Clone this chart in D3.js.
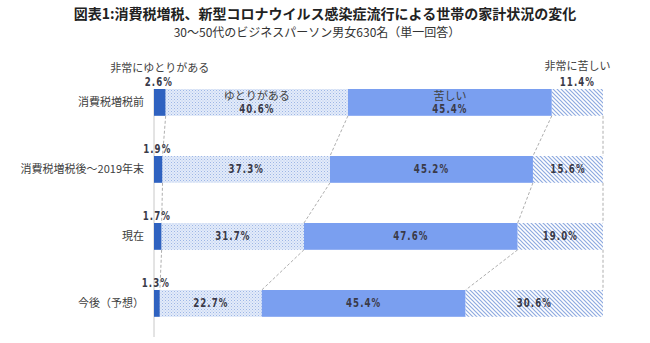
<!DOCTYPE html>
<html><head><meta charset="utf-8">
<script src="https://cdn.jsdelivr.net/npm/d3@7/dist/d3.min.js"></script>
<style>
html,body{margin:0;padding:0;background:#fff;}
svg{display:block;}
</style></head>
<body>
<svg id="c" width="650" height="343"></svg>
<script>
const categories = ["消費税増税前", "消費税増税後～2019年末", "現在", "今後（予想）"];
const seriesNames = ["非常にゆとりがある", "ゆとりがある", "苦しい", "非常に苦しい"];
const verySpare = [2.6, 1.9, 1.7, 1.3];
const spare = [40.6, 37.3, 31.7, 22.7];
const hard = [45.4, 45.2, 47.6, 45.4];
const veryHard = [11.4, 15.6, 19.0, 30.6];
const titleText = "図表1:消費税増税、新型コロナウイルス感染症流行による世帯の家計状況の変化";
const subtitleText = "30～50代のビジネスパーソン男女630名（単一回答）";

const svg = d3.select("#c");
const defs = svg.append("defs");
// dotted pattern
const pd = defs.append("pattern").attr("id","dots").attr("patternUnits","userSpaceOnUse").attr("width",3).attr("height",3);
pd.append("rect").attr("width",3).attr("height",3).attr("fill","#e3ebf9");
pd.append("rect").attr("x",0).attr("y",0).attr("width",1).attr("height",1).attr("fill","#9db6e6");
pd.append("rect").attr("x",1.5).attr("y",1.5).attr("width",1).attr("height",1).attr("fill","#b5c8ee");
// hatch pattern
const ph = defs.append("pattern").attr("id","hatch").attr("patternUnits","userSpaceOnUse").attr("width",4).attr("height",4);
ph.append("rect").attr("width",4).attr("height",4).attr("fill","#ffffff");
ph.append("path").attr("d","M-1,-1 L5,5 M-1,3 L1,5 M3,-1 L5,1").attr("stroke","#8eaae0").attr("stroke-width",1.2);

const fills = ["#2f62c0", "url(#dots)", "#7a9ff0", "url(#hatch)"];
const numFont = "'DejaVu Sans', sans-serif";
const jpFont = "'Noto Sans CJK JP', sans-serif";

svg.append("text").attr("x",325).attr("y",19).attr("text-anchor","middle")
  .attr("font-family",jpFont).attr("font-weight","bold").attr("font-size",14).attr("fill","#222")
  .text(titleText);
svg.append("text").attr("x",317).attr("y",37).attr("text-anchor","middle")
  .attr("font-family",jpFont).attr("font-size",12).attr("fill","#333")
  .text(subtitleText);

const x = d3.scaleLinear().domain([0,100]).range([154,603]);
const y = d3.scaleBand().domain(categories).range([89,316.8]).paddingInner(0.6).paddingOuter(0);

const rows = categories.map((c,i)=>{
  const vals=[verySpare[i],spare[i],hard[i],veryHard[i]];
  let cum=0;
  return {cat:c, segs: vals.map((v,k)=>{const s={k,v,x0:cum,x1:cum+v}; cum+=v; return s;})};
});

// axis line
svg.append("line").attr("x1",x(0)).attr("x2",x(0)).attr("y1",y(categories[0])).attr("y2",337)
  .attr("stroke","#c8c8c8").attr("stroke-width",1);

// connectors
for(let i=0;i<rows.length-1;i++){
  const a=rows[i], b=rows[i+1];
  for(let k=0;k<4;k++){
    svg.append("line")
      .attr("x1",x(a.segs[k].x1)).attr("y1",y(a.cat)+y.bandwidth())
      .attr("x2",x(b.segs[k].x1)).attr("y2",y(b.cat))
      .attr("stroke","#999").attr("stroke-width",0.8).attr("stroke-dasharray","3,2");
  }
}

// bars
rows.forEach(r=>{
  svg.selectAll(null).data(r.segs).enter().append("rect")
    .attr("x",d=>x(d.x0)).attr("width",d=>x(d.x1)-x(d.x0))
    .attr("y",y(r.cat)).attr("height",y.bandwidth())
    .attr("fill",d=>fills[d.k]);
});

// category labels
svg.selectAll(".cat").data(categories).enter().append("text")
  .attr("x",144).attr("y",d=>y(d)+y.bandwidth()/2+4).attr("text-anchor","end")
  .attr("font-family",jpFont).attr("font-size",11).attr("fill","#404040").text(d=>d);

function num(xp, yp, t){
  svg.append("text").attr("transform",`translate(${xp},${yp}) scale(0.72,1)`)
    .attr("text-anchor","middle").attr("font-family",numFont).attr("font-weight","bold")
    .attr("font-size",12).attr("letter-spacing",1.5).attr("fill","#3a3a48").text(t);
}
const fmt = v => v.toFixed(1)+"%";

rows.forEach((r,i)=>{
  const top=y(r.cat), cy=top+y.bandwidth()/2;
  r.segs.forEach(s=>{
    const cx=(x(s.x0)+x(s.x1))/2;
    if(s.k===0){
      num(cx-1, top-3, fmt(s.v));
    } else if(i===0 && s.k===3){
      num(cx, top-3, fmt(s.v));
    } else if(i===0){
      svg.append("text").attr("x",cx).attr("y",cy-2).attr("text-anchor","middle")
        .attr("font-family",jpFont).attr("font-size",11).attr("fill","#404040").text(seriesNames[s.k]);
      num(cx, cy+11, fmt(s.v));
    } else {
      num(cx, cy+4, fmt(s.v));
    }
  });
});
// series name labels above first row
const r0=rows[0];
svg.append("text").attr("x",(x(r0.segs[0].x0)+x(r0.segs[0].x1))/2).attr("y",y(r0.cat)-17).attr("text-anchor","middle")
  .attr("font-family",jpFont).attr("font-size",11).attr("fill","#404040").text(seriesNames[0]);
svg.append("text").attr("x",(x(r0.segs[3].x0)+x(r0.segs[3].x1))/2).attr("y",y(r0.cat)-19).attr("text-anchor","middle")
  .attr("font-family",jpFont).attr("font-size",11).attr("fill","#404040").text(seriesNames[3]);
</script>
</body></html>
